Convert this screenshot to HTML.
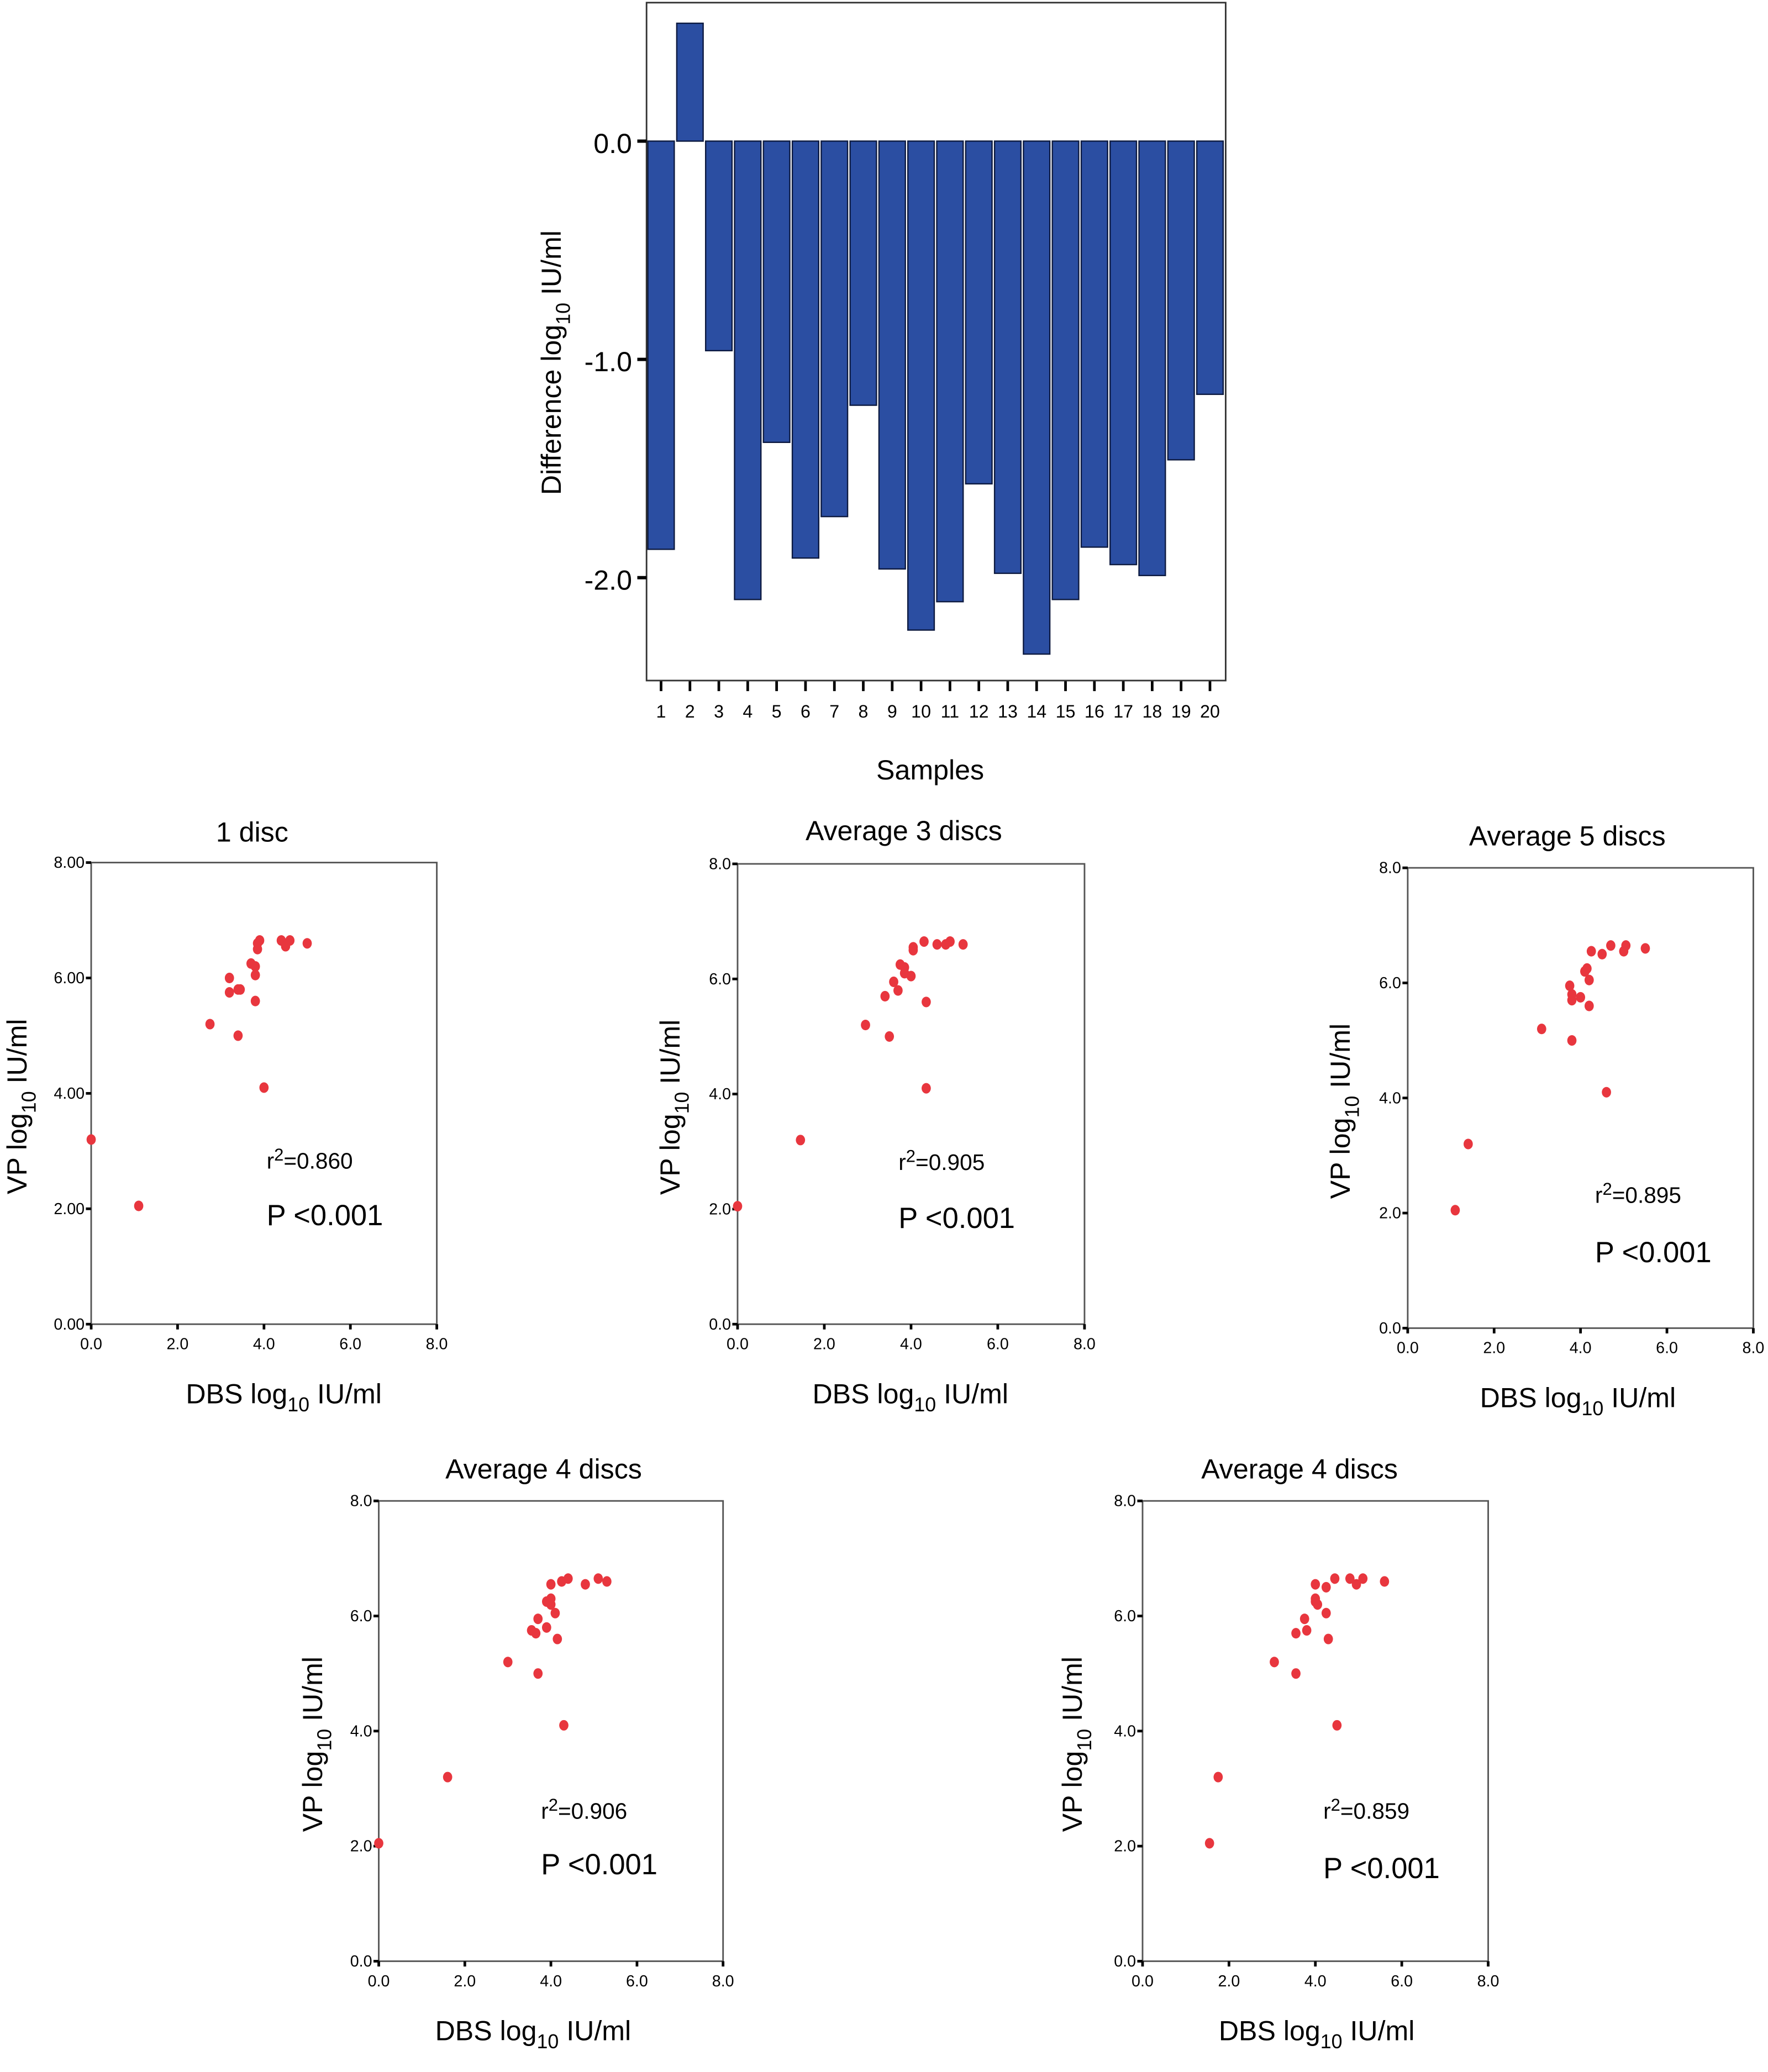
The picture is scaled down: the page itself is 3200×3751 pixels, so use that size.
<!DOCTYPE html>
<html><head><meta charset="utf-8"><style>
html,body{margin:0;padding:0;background:#fff}
svg{display:block;font-family:"Liberation Sans",sans-serif}
</style></head><body>
<svg id="fig" xmlns="http://www.w3.org/2000/svg" width="3200" height="3751" viewBox="0 0 1340 1571"></svg>
<script>
const barSamples=["1","2","3","4","5","6","7","8","9","10","11","12","13","14","15","16","17","18","19","20"];
const barValues=[-1.87,0.54,-0.96,-2.10,-1.38,-1.91,-1.72,-1.21,-1.96,-2.24,-2.11,-1.57,-1.98,-2.35,-2.10,-1.86,-1.94,-1.99,-1.46,-1.16];
const barTicks=[0,-1,-2];
const barTickLabels=["0.0","-1.0","-2.0"];

const p1x=[0,1.1,2.75,3.4,3.2,3.2,3.45,3.4,3.7,3.8,3.8,3.85,3.9,3.8,4.0,4.4,4.5,4.6,5.0,3.85];
const p1y=[3.2,2.05,5.2,5.0,5.75,6.0,5.8,5.8,6.25,6.2,6.05,6.5,6.65,5.6,4.1,6.65,6.55,6.65,6.6,6.6];
const p2x=[0,1.45,2.95,3.5,3.4,3.6,3.7,3.75,3.85,4.0,4.05,4.05,4.3,4.35,4.35,4.6,4.8,4.9,5.2,3.85];
const p2y=[2.05,3.2,5.2,5.0,5.7,5.95,5.8,6.25,6.1,6.05,6.5,6.55,6.65,5.6,4.1,6.6,6.6,6.65,6.6,6.2];
const p3x=[1.1,1.4,3.1,3.8,3.75,3.8,4.0,4.1,4.15,4.2,4.2,4.25,4.5,4.7,4.6,5.0,5.05,5.5,4.1,3.8];
const p3y=[2.05,3.2,5.2,5.0,5.95,5.7,5.75,6.2,6.25,5.6,6.05,6.55,6.5,6.65,4.1,6.55,6.65,6.6,6.2,5.8];
const p4x=[0,1.6,3.0,3.7,3.55,3.65,3.7,3.9,3.9,4.0,4.1,4.15,4.0,4.25,4.4,4.3,4.8,5.1,5.3,4.0];
const p4y=[2.05,3.2,5.2,5.0,5.75,5.7,5.95,5.8,6.25,6.2,6.05,5.6,6.55,6.6,6.65,4.1,6.55,6.65,6.6,6.3];
const p5x=[1.55,1.75,3.05,3.55,3.55,3.75,3.8,4.0,4.05,4.25,4.3,4.0,4.25,4.45,4.5,4.8,4.95,5.1,5.6,4.0];
const p5y=[2.05,3.2,5.2,5.0,5.7,5.95,5.75,6.3,6.2,6.05,5.6,6.55,6.5,6.65,4.1,6.65,6.55,6.65,6.6,6.25];
const scatterTicks=[0,2,4,6,8];

const NS="http://www.w3.org/2000/svg";
const svg=document.getElementById('fig');
function mk(tag,attrs,parent,text){const e=document.createElementNS(NS,tag);for(const k in attrs)e.setAttribute(k,attrs[k]);if(text!==undefined)e.textContent=text;(parent||svg).appendChild(e);return e;}

// ---------- bar chart ----------
const bg=mk('g',{});


const bx0=490,bx1=929,by0=2,by1=516;
const yb=v=>107-v*165.5;
const xb=i=>501+i*21.9;
barValues.forEach((v,i)=>{
  const y1=yb(Math.max(v,0)),y2=yb(Math.min(v,0));
  const r=mk('rect',{x:xb(i)-10,y:y1,width:20,height:y2-y1,fill:'#2b4ea2',stroke:'#0d1a40','stroke-width':1},bg);
  
  
  mk('line',{x1:xb(i),x2:xb(i),y1:by1,y2:by1+8,stroke:'#000','stroke-width':2},bg);
  const l=mk('text',{x:xb(i),y:544,'font-size':13.5,'text-anchor':'middle'},bg,barSamples[i]);
  
  
});
mk('rect',{x:bx0,y:by0,width:bx1-bx0,height:by1-by0,fill:'none',stroke:'#333','stroke-width':1.2},bg);
barTicks.forEach((v,i)=>{
  mk('line',{x1:bx0-7,x2:bx0,y1:yb(v),y2:yb(v),stroke:'#000','stroke-width':2.5},bg);
  const l=mk('text',{x:479,y:yb(v)+9,'font-size':21,'text-anchor':'end'},bg,barTickLabels[i]);
  
  
});
const yt=mk('text',{transform:'translate(425,275) rotate(-90)','font-size':21,'text-anchor':'middle'},bg);


yt.innerHTML='Difference log<tspan font-size="15" dy="7">10</tspan><tspan dy="-7"> IU/ml</tspan>';
const xt=mk('text',{x:705,y:591,'font-size':21,'text-anchor':'middle'},bg,'Samples');



// ---------- scatter panels ----------
const panels=[
 {name:'1 disc',xs:p1x,ys:p1y,x0:69,x1:331,y0:654,y1:1004,r2:'0.860',rx:202,ry:886,py:929,dec:2,ty:638,tx:191,xtx:215,yx:20},
 {name:'Average 3 discs',xs:p2x,ys:p2y,x0:559,x1:822,y0:655,y1:1004,r2:'0.905',rx:681,ry:887,py:931,dec:1,ty:637,tx:685,xtx:690,yx:515},
 {name:'Average 5 discs',xs:p3x,ys:p3y,x0:1067,x1:1329,y0:658,y1:1007,r2:'0.895',rx:1209,ry:912,py:957,dec:1,ty:641,tx:1188,xtx:1196,yx:1023},
 {name:'Average 4 discs',xs:p4x,ys:p4y,x0:287,x1:548,y0:1138,y1:1487,r2:'0.906',rx:410,ry:1379,py:1421,dec:1,ty:1121,tx:412,xtx:404,yx:244},
 {name:'Average 4 discs',xs:p5x,ys:p5y,x0:866,x1:1128,y0:1138,y1:1487,r2:'0.859',rx:1003,ry:1379,py:1424,dec:1,ty:1121,tx:985,xtx:998,yx:820}
];
panels.forEach((p,pi)=>{
  const g=mk('g',{});
  
  
  const sx=v=>p.x0+v*(p.x1-p.x0)/8;
  const sy=v=>p.y1-v*(p.y1-p.y0)/8;
  mk('rect',{x:p.x0,y:p.y0,width:p.x1-p.x0,height:p.y1-p.y0,fill:'none',stroke:'#555','stroke-width':1.2},g);
  scatterTicks.forEach(v=>{
    mk('line',{x1:p.x0-4,x2:p.x0,y1:sy(v),y2:sy(v),stroke:'#000','stroke-width':2},g);
    const yl=mk('text',{x:p.x0-5,y:sy(v)+4,'font-size':12,'text-anchor':'end'},g,v.toFixed(p.dec));
    
    
    mk('line',{x1:sx(v),x2:sx(v),y1:p.y1,y2:p.y1+4,stroke:'#000','stroke-width':2},g);
    const xl=mk('text',{x:sx(v),y:p.y1+19,'font-size':12,'text-anchor':'middle'},g,v.toFixed(1));
    
    
  });
  p.xs.forEach((v,i)=>{
    const c=mk('ellipse',{cx:sx(v),cy:sy(p.ys[i]),rx:3.5,ry:4,fill:'#e8363e'},g);
    
    
  });
  const t=mk('text',{x:p.tx,y:p.ty,'font-size':21,'text-anchor':'middle'},g,p.name);
  
  
  const xa=mk('text',{x:p.xtx,y:p.y1+60,'font-size':21,'text-anchor':'middle'},g);
  
  
  xa.innerHTML='DBS log<tspan font-size="15" dy="6">10</tspan><tspan dy="-6"> IU/ml</tspan>';
  const ya=mk('text',{transform:`translate(${p.yx},${(p.y0+p.y1)/2+10}) rotate(-90)`,'font-size':21,'text-anchor':'middle'},g);
  
  
  ya.innerHTML='VP log<tspan font-size="15" dy="7">10</tspan><tspan dy="-7"> IU/ml</tspan>';
  const r=mk('text',{x:p.rx,y:p.ry,'font-size':17},g);
  
  
  r.innerHTML='r<tspan font-size="13" dy="-6">2</tspan><tspan dy="6">=' + p.r2 + '</tspan>';
  const pv=mk('text',{x:p.rx,y:p.py,'font-size':22},g,'P <0.001');
  
  
});
</script>
</body></html>
